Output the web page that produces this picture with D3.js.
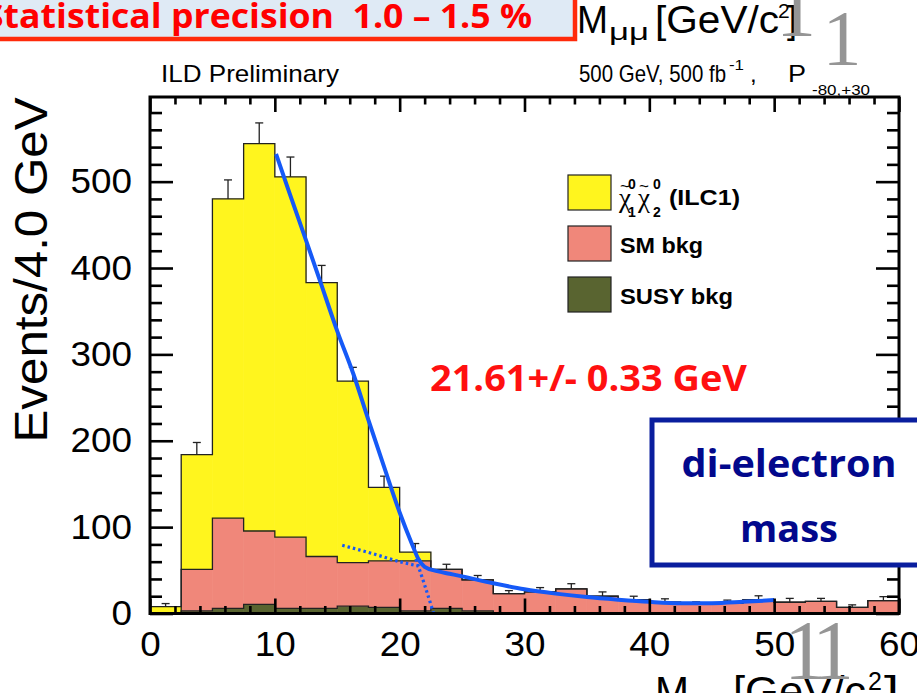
<!DOCTYPE html>
<html>
<head>
<meta charset="utf-8">
<script src="https://cdn.jsdelivr.net/npm/d3@7"></script>
<style>
body { margin: 0; background: #fff; }
svg { display: block; }
text { white-space: pre; }
</style>
</head>
<body>
<svg id="chart" width="917" height="693"></svg>
<script>
// bins of the di-lepton mass histogram (lower edges, GeV)
var binLow = [0, 2.5, 5, 7.5, 10, 12.5, 15, 17.5, 20, 22.5, 25, 27.5, 30, 32.5, 35, 37.5, 40, 42.5, 45, 47.5, 50, 52.5, 55, 57.5];
var binWidth = 2.5;
// stacked contributions
var susyBkg = [0, 3, 6, 10.5, 6, 6, 8.5, 7, 3, 6, 3, 0, 0, 0, 0, 0, 0, 0, 0, 0, 0, 0, 0, 0];
var smBkg   = [0, 48, 104.5, 85, 82.5, 60, 50.5, 54, 58, 45, 36, 23, 25, 28.5, 20, 16, 13, 10.5, 12, 16, 13, 14, 7, 15];
var signal  = [8, 133, 369.5, 448.5, 417, 317, 210, 85, 10, 0, 0, 0, 0, 0, 0, 0, 0, 0, 0, 0, 0, 0, 0, 0];
var errUp   = [3.5, 14, 22, 24, 23, 20, 16, 13, 10, 6, 5, 3.5, 5, 6, 5, 4, 4, 3, 3.5, 4.5, 4.5, 3.5, 3, 4.5];

// fitted edge function (solid) and its parts (dotted)
var fitX = [10.1, 11.1, 12.5, 13.6, 15.0, 16.3, 17.5, 18.7, 20.0, 21.0, 21.5, 22.0, 23.0, 24.0, 25.0, 27.5, 30.0, 32.5, 35.0, 37.5, 40.0, 42.5, 45.0, 47.5, 50.0];
var fitY = [532, 490, 432, 386, 327, 277, 224, 172, 117, 80, 63, 54, 49, 46, 43, 35, 28, 23, 19, 16, 13.5, 12, 12, 13.5, 15.5];
var bkgDotX = [15.4, 17.9, 20.0, 21.5];
var bkgDotY = [79, 69, 60, 55];
var edgeDotX = [21.3, 22.0, 22.7];
var edgeDotY = [63, 33, 1];

var xMajor = [0, 10, 20, 30, 40, 50, 60];
var yMajor = [0, 100, 200, 300, 400, 500];

var svg = d3.select("#chart");
var x = d3.scaleLinear().domain([0, 60]).range([150, 899]);
var y = d3.scaleLinear().domain([0, 598]).range([613.5, 97]);

var colors = { susy: "#596430", sm: "#f0877a", signal: "#fff51e" };
var blue = "#1559f7";
var helv = "Liberation Sans, Arial, sans-serif";
var calibri = "Open Sans, Noto Sans, sans-serif";
var serif = "Liberation Serif, serif";

var rows = binLow.map(function(b, i) {
  return { lo: b, susy: susyBkg[i], sm: smBkg[i], signal: signal[i] };
});
var layers = d3.stack().keys(["susy", "sm", "signal"])(rows);

// filled stack
layers.forEach(function(layer) {
  svg.append("g").selectAll("rect")
    .data(layer.filter(function(d) { return d[1] > d[0]; }))
    .enter().append("rect")
      .attr("x", function(d) { return x(d.data.lo); })
      .attr("width", function(d) { return x(d.data.lo + binWidth) - x(d.data.lo); })
      .attr("y", function(d) { return y(d[1]); })
      .attr("height", function(d) { return y(d[0]) - y(d[1]); })
      .attr("fill", colors[layer.key])
      .attr("stroke", colors[layer.key])
      .attr("stroke-width", 0.6);
});

// step outlines of every stacked layer
var step = d3.line()
  .x(function(d) { return x(d[0]); })
  .y(function(d) { return y(d[1]); })
  .curve(d3.curveStepAfter);
layers.forEach(function(layer) {
  var pts = [[0, 0]];
  layer.forEach(function(d) { pts.push([d.data.lo, d[1]]); });
  pts.push([60, layer[layer.length - 1][1]]);
  pts.push([60, 0]);
  svg.append("path")
    .attr("d", step(pts))
    .attr("fill", "none")
    .attr("stroke", "#222")
    .attr("stroke-width", 1.3);
});

// error bars on the total
var totals = layers[2];
var eb = svg.append("g").attr("stroke", "#222").attr("stroke-width", 1.3);
totals.forEach(function(d, i) {
  var cx = x(d.data.lo + binWidth / 2);
  eb.append("line").attr("x1", cx).attr("x2", cx)
    .attr("y1", y(d[1])).attr("y2", y(d[1] + errUp[i]));
  eb.append("line").attr("x1", cx - 4).attr("x2", cx + 4)
    .attr("y1", y(d[1] + errUp[i])).attr("y2", y(d[1] + errUp[i]));
});

// fit curves
var curve = d3.line()
  .x(function(d) { return x(d[0]); })
  .y(function(d) { return y(d[1]); })
  .curve(d3.curveMonotoneX);
function pairs(xs, ys) { return xs.map(function(v, i) { return [v, ys[i]]; }); }
svg.append("path").attr("d", curve(pairs(bkgDotX, bkgDotY)))
  .attr("fill", "none").attr("stroke", blue).attr("stroke-width", 3.2)
  .attr("stroke-dasharray", "2.5,3");
svg.append("path").attr("d", curve(pairs(edgeDotX, edgeDotY)))
  .attr("fill", "none").attr("stroke", blue).attr("stroke-width", 3.2)
  .attr("stroke-dasharray", "2.5,3");
svg.append("path").attr("d", curve(pairs(fitX, fitY)))
  .attr("fill", "none").attr("stroke", blue).attr("stroke-width", 4);

// frame and ROOT style inner ticks
svg.append("rect")
  .attr("x", x(0)).attr("y", y(598))
  .attr("width", x(60) - x(0)).attr("height", y(0) - y(598))
  .attr("fill", "none").attr("stroke", "#000").attr("stroke-width", 3);

var xMinor = d3.range(0, 61, 2).filter(function(v) { return v % 10 !== 0; });
var yMinor = d3.range(0, 598, 20).filter(function(v) { return v % 100 !== 0; });

function addAxis(axis, tr) {
  var g = svg.append("g").attr("transform", tr).call(axis);
  g.select(".domain").remove();
  g.selectAll("line").attr("stroke", "#000").attr("stroke-width", 2.6);
  g.attr("font-family", helv).attr("font-size", 35);
  g.selectAll("text").attr("fill", "#000")
    .attr("textLength", function(d) { return String(d).length * 20.5; })
    .attr("lengthAdjust", "spacingAndGlyphs");
  return g;
}
addAxis(d3.axisBottom(x).tickValues(xMajor).tickSizeInner(-15).tickSizeOuter(0).tickPadding(18).tickFormat(d3.format("d")), "translate(0," + y(0) + ")");
addAxis(d3.axisBottom(x).tickValues(xMinor).tickSizeInner(-7.5).tickSizeOuter(0).tickFormat(""), "translate(0," + y(0) + ")");
addAxis(d3.axisTop(x).tickValues(xMajor).tickSizeInner(-15).tickSizeOuter(0).tickFormat(""), "translate(0," + y(598) + ")");
addAxis(d3.axisTop(x).tickValues(xMinor).tickSizeInner(-7.5).tickSizeOuter(0).tickFormat(""), "translate(0," + y(598) + ")");
addAxis(d3.axisLeft(y).tickValues(yMajor).tickSizeInner(-23).tickSizeOuter(0).tickPadding(18).tickFormat(d3.format("d")), "translate(" + x(0) + ",0)");
addAxis(d3.axisLeft(y).tickValues(yMinor).tickSizeInner(-12).tickSizeOuter(0).tickFormat(""), "translate(" + x(0) + ",0)");
addAxis(d3.axisRight(y).tickValues(yMajor).tickSizeInner(-23).tickSizeOuter(0).tickFormat(""), "translate(" + x(60) + ",0)");
addAxis(d3.axisRight(y).tickValues(yMinor).tickSizeInner(-12).tickSizeOuter(0).tickFormat(""), "translate(" + x(60) + ",0)");

function txt(px, py, str, size, opts) {
  opts = opts || {};
  var t = svg.append("text")
    .attr("x", px).attr("y", py)
    .attr("font-family", opts.family || helv)
    .attr("font-size", size)
    .attr("font-weight", opts.weight || 400)
    .attr("fill", opts.fill || "#000")
    .attr("text-anchor", opts.anchor || "start")
    .text(str);
  if (opts.len) t.attr("textLength", opts.len).attr("lengthAdjust", "spacingAndGlyphs");
  return t;
}

// y title
txt(0, 0, "Events/4.0 GeV", 46, { anchor: "middle", len: 345 })
  .attr("transform", "translate(47,270) rotate(-90)");

// header texts
txt(161, 82, "ILD Preliminary", 24, { len: 178 });
txt(579, 82, "500 GeV, 500 fb", 24, { len: 147 });
txt(729, 70, "-1", 14, { len: 15 });
txt(750, 82, ",", 24);
txt(788, 82, "P", 24, { len: 18 });
txt(812, 95, "-80,+30", 14, { len: 58 });

// legend
var legendItems = [
  { key: "signal", y: 175 },
  { key: "sm", y: 226 },
  { key: "susy", y: 277 }
];
svg.append("g").selectAll("rect")
  .data(legendItems)
  .enter().append("rect")
    .attr("x", 568).attr("y", function(d) { return d.y; })
    .attr("width", 43).attr("height", 35)
    .attr("fill", function(d) { return colors[d.key]; })
    .attr("stroke", "#222").attr("stroke-width", 1.2);
txt(619, 207, "χ", 27, { family: serif });
txt(620, 192, "~", 17, { family: helv });
txt(628, 189, "0", 14, { weight: 700 });
txt(628, 217, "1", 14, { weight: 700 });
txt(638, 207, "χ", 27, { family: serif });
txt(639, 192, "~", 17, { family: helv });
txt(653, 189, "0", 14, { weight: 700 });
txt(653, 217, "2", 14, { weight: 700 });
txt(669, 205, "(ILC1)", 22, { weight: 700, len: 71 });
txt(620, 253, "SM bkg", 22, { weight: 700, len: 83 });
txt(620, 304, "SUSY bkg", 22, { weight: 700, len: 113 });

// fit result
txt(430, 391, "21.61+/- 0.33 GeV", 35, { family: calibri, weight: 700, fill: "#ff1010", len: 317 });

// di-electron box
svg.append("rect").attr("x", 652).attr("y", 420).attr("width", 300).attr("height", 145)
  .attr("fill", "#fff").attr("stroke", "#0a1e9e").attr("stroke-width", 5);
txt(789, 477, "di-electron", 37, { family: calibri, weight: 700, fill: "#02088c", anchor: "middle", len: 215 });
txt(789, 542, "mass", 37, { family: calibri, weight: 700, fill: "#02088c", anchor: "middle", len: 98 });

// slide leftovers at the top
svg.append("rect").attr("x", -10).attr("y", -10).attr("width", 585).attr("height", 49)
  .attr("fill", "#dfeaf5").attr("stroke", "#ff2a0a").attr("stroke-width", 4.5);
txt(-16, 28, "Statistical precision  1.0 – 1.5 %", 34, { family: calibri, weight: 700, fill: "#ff0000", len: 548 });

txt(577, 33, "M", 39, { len: 31 });
txt(609, 40, "μμ", 23, { len: 40 });
txt(655, 33, "[GeV/c", 39, { len: 124 });
txt(778, 18, "2", 21);
txt(787, 33, "]", 39, { len: 10 });

// x title, cut at the bottom edge
txt(655, 706, "M", 42, { len: 34 });
txt(690, 714, "μμ", 25, { len: 36 });
txt(733, 706, "[GeV/c", 42, { len: 133 });
txt(868, 690, "2", 25);
txt(884, 706, "]", 42, { len: 15 });

// grey page numbers overlapping the picture
txt(796, 36, "1", 80, { family: serif, fill: "#959595", anchor: "middle" });
txt(842, 64, "1", 78, { family: serif, fill: "#959595", anchor: "middle" });
txt(805, 679, "1", 84, { family: serif, fill: "#959595", anchor: "middle" });
txt(833, 679, "1", 84, { family: serif, fill: "#959595", anchor: "middle" });
</script>
</body>
</html>
